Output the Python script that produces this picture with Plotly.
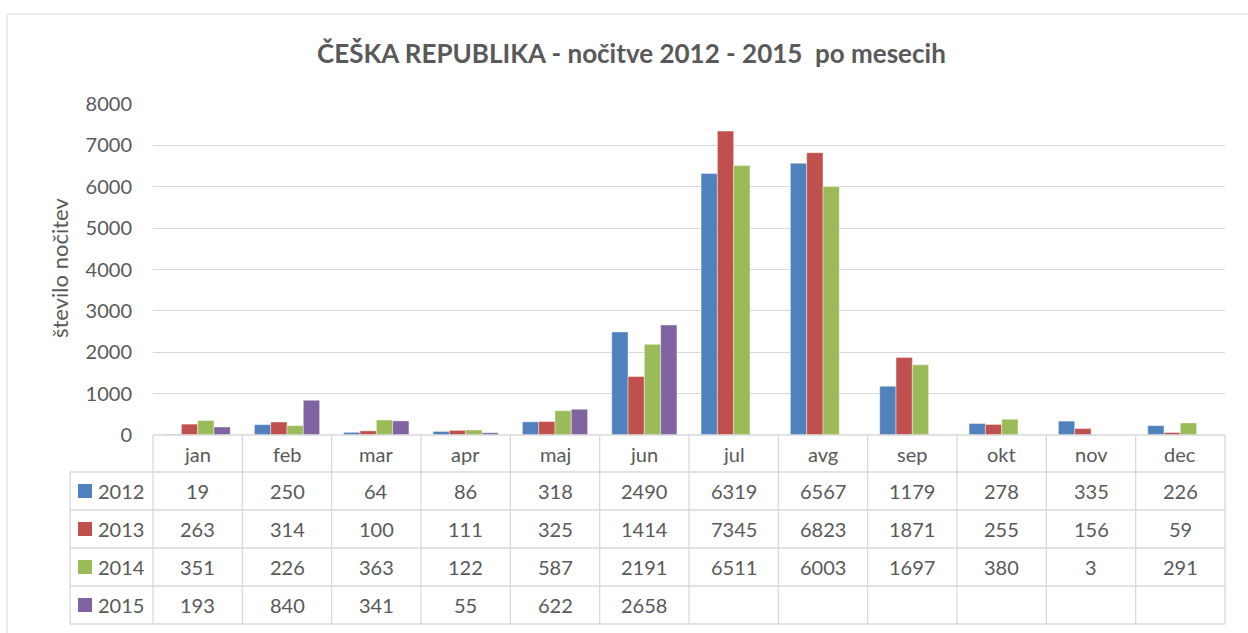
import plotly.graph_objects as go

months = ["jan", "feb", "mar", "apr", "maj", "jun", "jul", "avg", "sep", "okt", "nov", "dec"]
years = ["2012", "2013", "2014", "2015"]
v2012 = [19, 250, 64, 86, 318, 2490, 6319, 6567, 1179, 278, 335, 226]
v2013 = [263, 314, 100, 111, 325, 1414, 7345, 6823, 1871, 255, 156, 59]
v2014 = [351, 226, 363, 122, 587, 2191, 6511, 6003, 1697, 380, 3, 291]
v2015 = [193, 840, 341, 55, 622, 2658, None, None, None, None, None, None]
series = [v2012, v2013, v2014, v2015]
colors = ["#4F81BD", "#C0504D", "#9BBB59", "#8064A2"]
title = "ČEŠKA REPUBLIKA - nočitve 2012 - 2015  po mesecih"
ytitle = "število nočitev"

W, H = 1248, 633
L, R, T, B = 153, 23, 104, 198
PW, PH = W - L - R, H - T - B
FONT = "Lato"
TXT = "#595959"
GRID = "#D9D9D9"


def xp(px):
    return (px - L) / PW


def yp(py):
    return (H - B - py) / PH


fig = go.Figure()
for name, vals, col in zip(years, series, colors):
    fig.add_trace(go.Bar(x=months, y=vals, name=name, marker=dict(color=col, line=dict(color="rgba(255,255,255,0.6)", width=0.7))))

shapes = []
ann = []

# outer chart border
shapes.append(dict(type="rect", xref="paper", yref="paper", x0=xp(7), x1=xp(1260), y0=yp(14), y1=yp(645),
                   line=dict(color=GRID, width=1), fillcolor="rgba(0,0,0,0)", layer="below"))

# data table geometry
colw = PW / len(months)
row_edges = [435, 472, 510, 548, 586, 624]
left_x = 70

for i in range(len(months) + 1):
    x = L + i * colw
    shapes.append(dict(type="line", xref="paper", yref="paper", x0=xp(x), x1=xp(x), y0=yp(row_edges[0]), y1=yp(row_edges[-1]),
                       line=dict(color=GRID, width=1.3)))
shapes.append(dict(type="line", xref="paper", yref="paper", x0=xp(left_x), x1=xp(left_x), y0=yp(row_edges[1]), y1=yp(row_edges[-1]),
                   line=dict(color=GRID, width=1.3)))
shapes.append(dict(type="line", xref="paper", yref="paper", x0=xp(L), x1=xp(L + PW), y0=yp(row_edges[0]), y1=yp(row_edges[0]),
                   line=dict(color=GRID, width=1.3)))
for r in row_edges[1:]:
    shapes.append(dict(type="line", xref="paper", yref="paper", x0=xp(left_x), x1=xp(L + PW), y0=yp(r), y1=yp(r),
                       line=dict(color=GRID, width=1.3)))

for i, m in enumerate(months):
    ann.append(dict(text=m, xref="paper", yref="paper", x=xp(L + (i + 0.5) * colw), y=yp((row_edges[0] + row_edges[1]) / 2),
                    showarrow=False, font=dict(family=FONT, size=20, color=TXT), xanchor="center", yanchor="middle"))

for r, (name, vals, col) in enumerate(zip(years, series, colors)):
    yc = (row_edges[r + 1] + row_edges[r + 2]) / 2
    shapes.append(dict(type="rect", xref="paper", yref="paper", x0=xp(78), x1=xp(92), y0=yp(yc - 7), y1=yp(yc + 7),
                       fillcolor=col, line=dict(width=0)))
    ann.append(dict(text=name, xref="paper", yref="paper", x=xp(96), y=yp(yc), showarrow=False,
                    font=dict(family=FONT, size=20, color=TXT), xanchor="left", yanchor="middle"))
    for i, v in enumerate(vals):
        if v is None:
            continue
        ann.append(dict(text=str(v), xref="paper", yref="paper", x=xp(L + (i + 0.5) * colw), y=yp(yc),
                        showarrow=False, font=dict(family=FONT, size=20, color=TXT), xanchor="center", yanchor="middle"))

ann.append(dict(text="<b>" + title + "</b>", xref="paper", yref="paper", x=xp(631), y=yp(53), showarrow=False,
                font=dict(family=FONT, size=26, color=TXT), xanchor="center", yanchor="middle"))
ann.append(dict(text=ytitle, xref="paper", yref="paper", x=xp(59), y=yp(268), showarrow=False, textangle=-90,
                font=dict(family=FONT, size=22, color=TXT), xanchor="center", yanchor="middle"))

fig.update_layout(
    width=W, height=H,
    margin=dict(l=L, r=R, t=T, b=B),
    paper_bgcolor="white", plot_bgcolor="white",
    barmode="group", bargap=0.27, bargroupgap=0,
    showlegend=False,
    shapes=shapes, annotations=ann,
    xaxis=dict(showticklabels=False, showgrid=False, zeroline=False, showline=False, ticks=""),
    yaxis=dict(range=[0, 8000], dtick=1000, showgrid=True, gridcolor=GRID, gridwidth=1.3, zeroline=False,
               showline=False, ticks="", tickfont=dict(family=FONT, size=20, color=TXT), ticklabelstandoff=20),
)

fig.write_html("out.html", config={"displayModeBar": False},
               post_script="document.body.style.margin='0';document.body.style.overflow='hidden';")
